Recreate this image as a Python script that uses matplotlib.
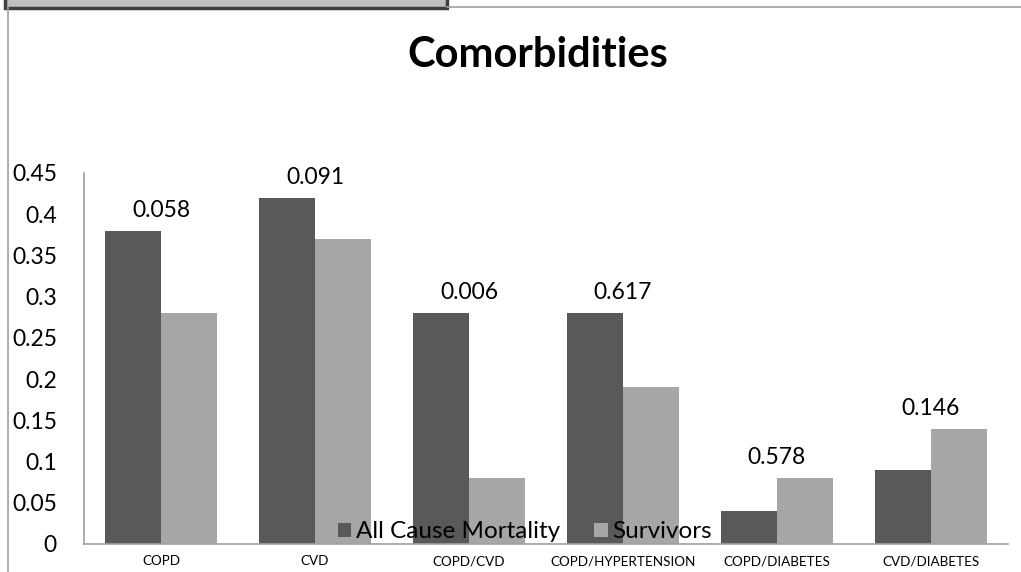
import matplotlib
matplotlib.use("Agg")
import matplotlib.pyplot as plt
import numpy as np
from matplotlib.patches import Rectangle
from matplotlib.lines import Line2D

categories = ["COPD", "CVD", "COPD/CVD", "COPD/HYPERTENSION", "COPD/DIABETES", "CVD/DIABETES"]
mortality = [0.38, 0.42, 0.28, 0.28, 0.04, 0.09]
survivors = [0.28, 0.37, 0.08, 0.19, 0.08, 0.14]
p_values = ["0.058", "0.091", "0.006", "0.617", "0.578", "0.146"]
yticks = [0, 0.05, 0.1, 0.15, 0.2, 0.25, 0.3, 0.35, 0.4, 0.45]
ytick_labels = ["0", "0.05", "0.1", "0.15", "0.2", "0.25", "0.3", "0.35", "0.4", "0.45"]

plt.rcParams['font.family'] = ['Lato', 'DejaVu Sans']

W, H = 1021, 572
fig = plt.figure(figsize=(W / 100, H / 100), dpi=100)

def fx(px):
    return px / W

def fy(py):
    return 1 - py / H

# frame decorations
fig.add_artist(Rectangle((fx(5), fy(8)), fx(442), 8 / H + 0.01, facecolor="#BFBFBF",
                         edgecolor="#404040", linewidth=2.5, transform=fig.transFigure))
fig.add_artist(Line2D([fx(447), 1], [fy(7), fy(7)], color="#A0A0A0", linewidth=1.2,
                      transform=fig.transFigure))
fig.add_artist(Line2D([fx(8), fx(8)], [fy(7), 0], color="#A0A0A0", linewidth=1.2,
                      transform=fig.transFigure))

ax = fig.add_axes([fx(84), fy(544), fx(1008) - fx(84), (544 - 173) / H])
x = np.arange(len(categories))
w = 0.364
ax.bar(x - w / 2, mortality, w, color="#595959", label="All Cause Mortality")
ax.bar(x + w / 2, survivors, w, color="#A6A6A6", label="Survivors")

for i, lab in enumerate(p_values):
    top = max(mortality[i], survivors[i])
    ax.annotate(lab, (x[i], top), xytext=(0, 7), textcoords="offset points",
                ha="center", va="bottom", fontsize=16.5, color="black")

ax.set_xlim(-0.5, len(categories) - 0.5)
ax.set_ylim(0, 0.45)
ax.set_yticks(yticks)
ax.set_yticklabels(ytick_labels, fontsize=16.5)
ax.set_xticks(x)
ax.set_xticklabels(categories, fontsize=9.7)
ax.tick_params(axis="y", length=0, pad=19.5)
ax.tick_params(axis="x", length=0, pad=8)
for s in ["top", "right"]:
    ax.spines[s].set_visible(False)
for s in ["left", "bottom"]:
    ax.spines[s].set_color("#A0A0A0")
    ax.spines[s].set_linewidth(1.2)

fig.text(fx(538), fy(55), "Comorbidities", ha="center", va="center", fontsize=30, fontweight="bold")

leg = fig.legend(loc="center", bbox_to_anchor=(fx(525), fy(532)), ncol=2, frameon=False,
                 fontsize=17.5, handlelength=0.55, handleheight=0.55, handletextpad=0.2,
                 columnspacing=1.4, borderpad=0)

fig.savefig("out.png", dpi=100)
